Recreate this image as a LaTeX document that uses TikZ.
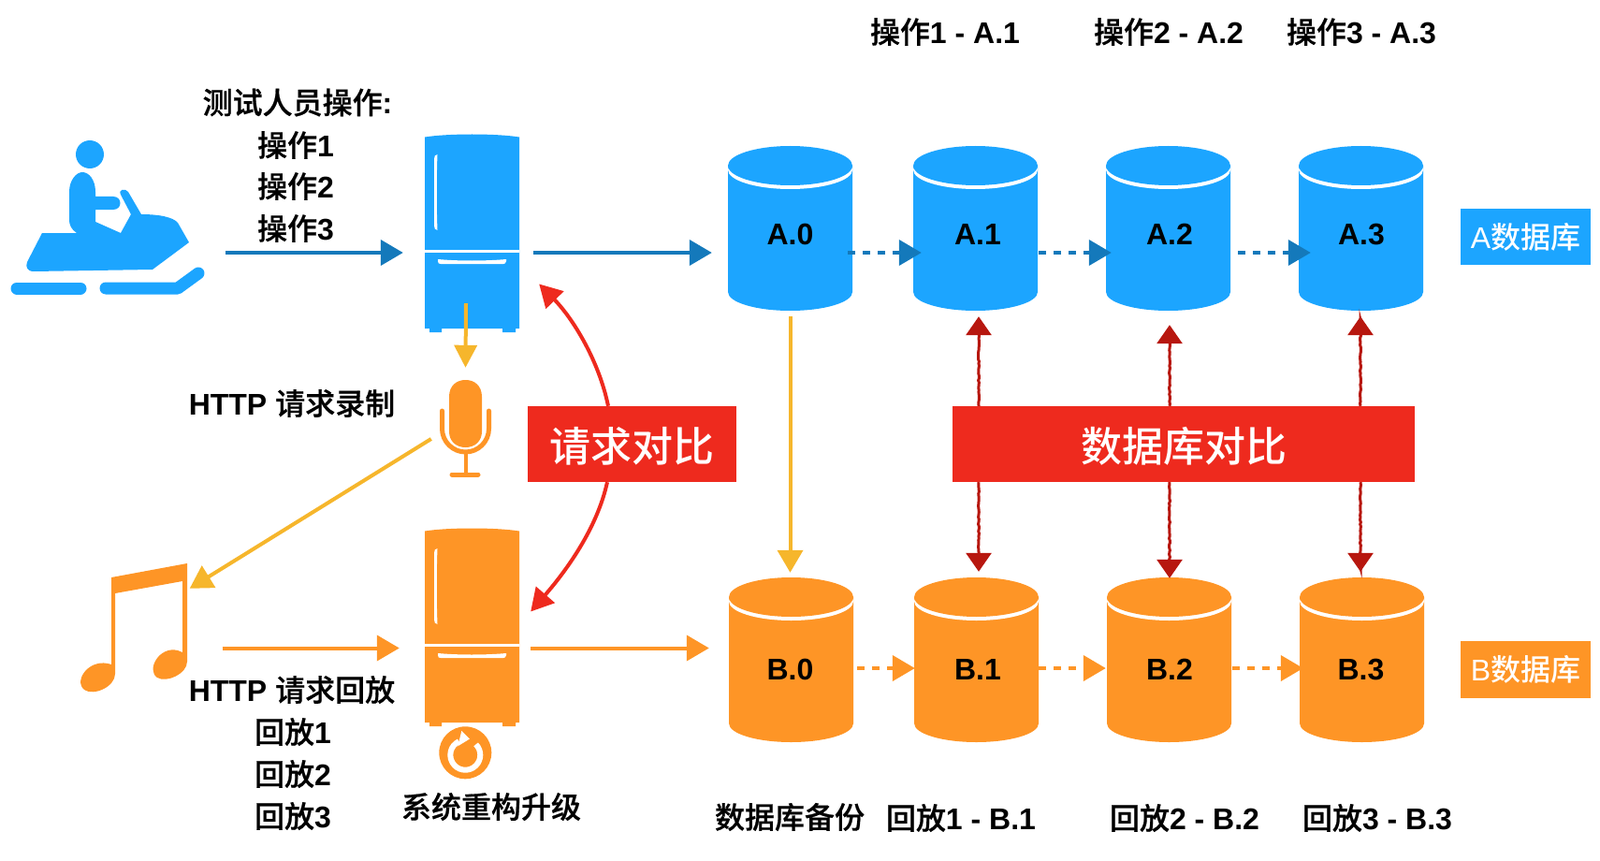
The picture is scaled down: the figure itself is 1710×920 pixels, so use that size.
\documentclass[tikz,border=0pt]{standalone}
\usepackage{fontspec}
\setmainfont{Liberation Sans}
\newfontfamily\cjk{Noto Sans CJK SC Medium}[BoldFont={Noto Sans CJK SC Medium},BoldFeatures={FakeBold=0.6}]
\usetikzlibrary{arrows.meta,decorations.pathmorphing}
\definecolor{iblue}{HTML}{1CA5FF}
\definecolor{dblue}{HTML}{1479BB}
\definecolor{iorange}{HTML}{FE9526}
\definecolor{iyellow}{HTML}{F6B62C}
\definecolor{ired}{HTML}{EE2A1E}
\definecolor{dred}{HTML}{B7170F}
\tikzset{
 x=1pt,y=-1pt,
 lbl/.style={inner sep=0pt,font=\fontsize{32}{36}\selectfont\bfseries,align=center},
 dbox/.style={inner sep=0pt,minimum width=133pt,minimum height=176pt},
 fbox/.style={inner sep=0pt,minimum width=101pt,minimum height=211pt},
 icon/.style={inner sep=0pt},
 flow/.style={line width=4pt,-{Triangle[length=24pt,width=27pt]}},
 dashflow/.style={flow,dash pattern=on 8pt off 8pt},
 cmp/.style={line width=3pt,dred,-{Triangle[length=20pt,width=27pt]},decorate,decoration={random steps,segment length=2.5pt,amplitude=.5pt,post length=4pt}},
 redcurve/.style={line width=4pt,ired,-{Triangle[length=24pt,width=26pt]}},
 banner/.style={fill=ired,inner sep=0pt},
 bannertext/.style={text=white,inner sep=0pt,font=\cjk\fontsize{44}{50}\selectfont},
 tag/.style={text=white,inner sep=0pt,minimum width=139pt,font=\fontsize{32}{36}\selectfont},
}
\newcommand{\drum}[7]{% name, cx, top, colour, text, text dx, text baseline y
 \fill[#4] (#2-66.5,#3+21) -- (#2-66.5,#3+156) arc[start angle=180,end angle=0,x radius=66.5,y radius=20] -- (#2+66.5,#3+21) -- cycle;
 \fill[white] (#2,#3+25.5) ellipse[x radius=66.5,y radius=20.5];
 \fill[#4] (#2,#3+21) ellipse[x radius=66.5,y radius=21];
 \node[dbox] (#1) at (#2,#3+88) {};
 \node[lbl,anchor=base] (#1t) at (#2+#6,#7) {#5};
}
\newcommand{\fridge}[4]{% name, left, top, colour
 \fill[#4] (#2,#3+2.5) .. controls (#2+25,#3-1.5) and (#2+76,#3-1.5) .. (#2+101,#3+2.5) -- (#2+101,#3+207) -- (#2+97,#3+207) -- (#2+97,#3+211) -- (#2+83,#3+211) -- (#2+83,#3+207) -- (#2+18,#3+207) -- (#2+18,#3+211) -- (#2+5,#3+211) -- (#2+5,#3+207) -- (#2,#3+207) -- cycle;
 \fill[white] (#2,#3+123) rectangle (#2+101,#3+126);
 \fill[white] (#2+10,#3+26) .. controls (#2+10,#3+23) and (#2+11,#3+21) .. (#2+13.5,#3+21) .. controls (#2+12.5,#3+45) and (#2+12.5,#3+78) .. (#2+13.5,#3+102) .. controls (#2+11,#3+102) and (#2+10,#3+100) .. (#2+10,#3+97) -- cycle;
 \fill[white] (#2+14,#3+133) .. controls (#2+35,#3+135) and (#2+65,#3+135) .. (#2+87,#3+133) -- (#2+87,#3+135) .. controls (#2+87,#3+137.5) and (#2+85,#3+138) .. (#2+84,#3+138) -- (#2+17,#3+138) .. controls (#2+15,#3+138) and (#2+14,#3+137.5) .. (#2+14,#3+135) -- cycle;
 \node[fbox] (#1) at (#2+50.5,#3+105.5) {};
}
\begin{document}
\begin{tikzpicture}
\useasboundingbox (0,0) rectangle (1710,920);
% rider
\fill[iblue] (96,165) circle (15);
\fill[iblue] (74,205) .. controls (74,192) and (82,184) .. (88,184) .. controls (95,184) and (102,192) .. (102,205) -- (102,210) -- (121,210) .. controls (131,210) and (131,224) .. (121,224) -- (102,224) -- (102,237) -- (129,249) -- (140,229) -- (129,208) .. controls (126,202) and (134,201) .. (137,205) -- (151,229) .. controls (170,229) and (185,232) .. (190,238) -- (202,259) -- (163,288) -- (36,290) .. controls (29,290) and (27,285) .. (29,280) -- (45,249) -- (82,249) .. controls (76,245) and (74,240) .. (74,235) -- cycle;
\draw[iblue,line width=13pt,line cap=round] (18,308) -- (86,308);
\draw[iblue,line width=13pt,line cap=round,line join=round] (113,308) -- (190,308) -- (212,292);
\node[icon,minimum width=206pt,minimum height=170pt] (rider) at (115,225) {};
% fridges
\fridge{fa}{454}{144}{iblue}
\fridge{fb}{454}{565}{iorange}
% microphone
\fill[iorange] (480,424) .. controls (480,412) and (488,406) .. (497.5,406) .. controls (507,406) and (515,412) .. (515,424) -- (515,461) .. controls (515,472) and (507,478) .. (497.5,478) .. controls (488,478) and (480,472) .. (480,461) -- cycle;
\draw[iorange,line width=5pt,line cap=round] (472.5,439) -- (472.5,458) .. controls (472.5,472) and (484,483) .. (497.5,483) .. controls (511,483) and (522.5,472) .. (522.5,458) -- (522.5,439);
\draw[iorange,line width=4pt] (497.5,483) -- (497.5,506);
\draw[iorange,line width=5pt,line cap=round] (483,507) -- (511,507);
\node[icon,minimum width=55pt,minimum height=104pt] (mic) at (497.5,456) {};
% music notes
\fill[iorange] (119,617) -- (200,602) -- (200,707) .. controls (200,720) and (178,730) .. (168,724) .. controls (156,716) and (170,690) .. (190,695) -- (195,697) -- (195,621) -- (123,634) -- (123,720) .. controls (123,734) and (100,744) .. (90,737) .. controls (78,727) and (96,702) .. (119,710) -- cycle;
\node[icon,minimum width=115pt,minimum height=140pt] (notes) at (145,670) {};
% refresh icon
\fill[iorange] (497.3,804.3) circle (28);
\draw[white,line width=6pt] (508.6,795.4) arc[start angle=-45,end angle=245,x radius=16,y radius=16];
\fill[white] (493.3,781) -- (502,789.5) -- (489.3,797.3) -- cycle;
\node[icon,minimum size=56pt] (refresh) at (497.3,804.3) {};
% drums
\drum{A0}{844.5}{156}{iblue}{A.0}{0}{261}
\drum{A1}{1042.5}{156}{iblue}{A.1}{2.5}{261}
\drum{A2}{1248.5}{156}{iblue}{A.2}{1.5}{261}
\drum{A3}{1454.5}{156}{iblue}{A.3}{0.5}{261}
\drum{B0}{845.5}{617}{iorange}{B.0}{-1}{726.5}
\drum{B1}{1043.5}{617}{iorange}{B.1}{1.5}{726.5}
\drum{B2}{1249.5}{617}{iorange}{B.2}{0.5}{726.5}
\drum{B3}{1455.5}{617}{iorange}{B.3}{-1}{726.5}
% banners and tags
\node[banner,minimum width=223pt,minimum height=81pt] (rq) at (675,474.5) {};
\node[bannertext] (rqt) at (675,477) {请求对比};
\node[banner,minimum width=494pt,minimum height=81pt] (dq) at (1265,474.5) {};
\node[bannertext] (dqt) at (1265,477) {数据库对比};
\node[tag,fill=iblue,minimum height=60pt] (ta) at (1630.5,253) {A{\cjk 数据库}};
\node[tag,fill=iorange,minimum height=61pt] (tb) at (1630.5,715) {B{\cjk 数据库}};
% flows
\draw[flow,dblue] ([shift={(23,45)}]rider.east) -- ([shift={(-23,20.5)}]fa.west);
\draw[flow,dblue] ([shift={(15,20.5)}]fa.east) -- ([shift={(-17,26)}]A0.west);
\draw[dashflow,dblue] ([shift={(-5,26)}]A0.east) -- ([shift={(9,26)}]A1.west);
\draw[dashflow,dblue] ([shift={(1,26)}]A1.east) -- ([shift={(6,26)}]A2.west);
\draw[dashflow,dblue] ([shift={(8,26)}]A2.east) -- ([shift={(13,26)}]A3.west);
\draw[flow,iyellow,-{Triangle[length=24pt,width=24pt]}] ([shift={(-6.5,-31)}]fa.south) -- ([shift={(0,-11)}]mic.north);
\draw[flow,iyellow] ([shift={(-9,13)}]mic.west) -- ([shift={(0,29)}]notes.north east);
\draw[flow,iyellow] ([shift={(0,6)}]A0.south) -- ([shift={(-1,-5)}]B0.north);
\draw[flow,iorange] ([shift={(35,22.5)}]notes.east) -- ([shift={(-27,22)}]fb.west);
\draw[flow,iorange] ([shift={(12,22)}]fb.east) -- ([shift={(-21,-12.5)}]B0.west);
\draw[dashflow,iorange] ([shift={(4,9)}]B0.east) -- ([shift={(1,9)}]B1.west);
\draw[dashflow,iorange] ([shift={(0,9)}]B1.east) -- ([shift={(-1,9)}]B2.west);
\draw[dashflow,iorange] ([shift={(1,9)}]B2.east) -- ([shift={(4,9)}]B3.west);
\draw[redcurve] ([shift={(-25,0)}]rq.north) .. controls (640,385) and (612,340) .. ([shift={(21,54)}]fa.east);
\draw[redcurve] ([shift={(-26,0)}]rq.south) .. controls (638,565) and (605,610) .. ([shift={(12,-17)}]fb.east);
\draw[cmp] ([xshift=-219pt]dq.north) -- ([shift={(3.5,6)}]A1.south);
\draw[cmp] ([xshift=-15pt]dq.north) -- ([shift={(1.5,15)}]A2.south);
\draw[cmp] ([xshift=189pt]dq.north) -- ([shift={(-.5,6)}]A3.south);
\draw[cmp] ([xshift=-219pt]dq.south) -- ([shift={(2.5,-6)}]B1.north);
\draw[cmp] ([xshift=-15pt]dq.south) -- ([shift={(.5,1)}]B2.north);
\draw[cmp] ([xshift=189pt]dq.south) -- ([shift={(-1.5,-6)}]B3.north);
% labels
\node[lbl] (t1) at (1010,34) {{\cjk 操作}1 - A.1};
\node[lbl] (t2) at (1249,34) {{\cjk 操作}2 - A.2};
\node[lbl] (t3) at (1455,34) {{\cjk 操作}3 - A.3};
\node[lbl] (t4) at (318,109.5) {{\cjk 测试人员操作}:};
\node[lbl] (t5) at (316,155) {{\cjk 操作}1};
\node[lbl] (t6) at (316,199) {{\cjk 操作}2};
\node[lbl] (t7) at (316,244) {{\cjk 操作}3};
\node[lbl] (t8) at (312,431) {HTTP {\cjk 请求录制}};
\node[lbl] (t9) at (312,737) {HTTP {\cjk 请求回放}};
\node[lbl] (t10) at (313,782) {{\cjk 回放}1};
\node[lbl] (t11) at (313,827) {{\cjk 回放}2};
\node[lbl] (t12) at (313,872) {{\cjk 回放}3};
\node[lbl] (t13) at (525,862) {{\cjk 系统重构升级}};
\node[lbl] (t14) at (844,873) {{\cjk 数据库备份}};
\node[lbl] (t15) at (1027,874) {{\cjk 回放}1 - B.1};
\node[lbl] (t16) at (1266,874) {{\cjk 回放}2 - B.2};
\node[lbl] (t17) at (1472,874) {{\cjk 回放}3 - B.3};
\end{tikzpicture}
\end{document}
